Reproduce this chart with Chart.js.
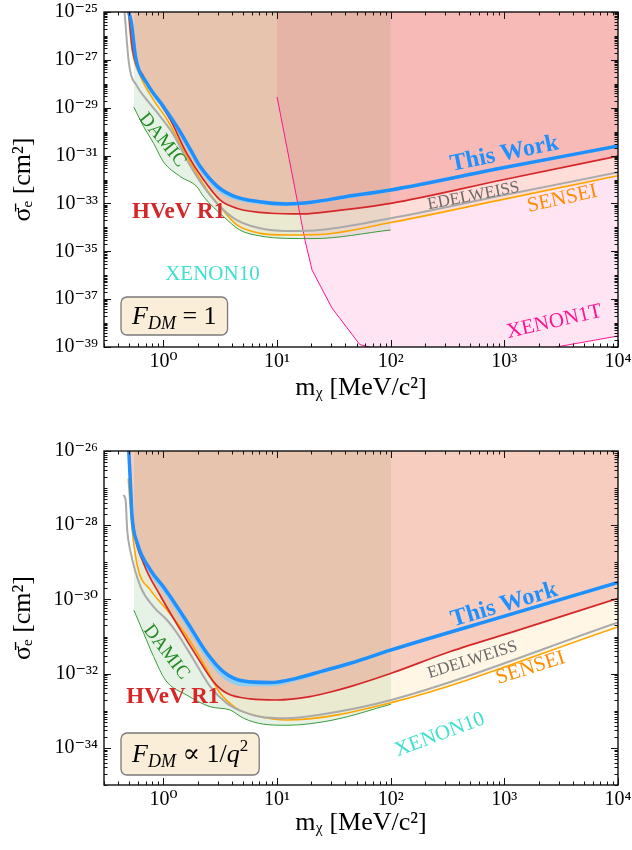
<!DOCTYPE html>
<html>
<head>
<meta charset="utf-8">
<script src="https://cdn.jsdelivr.net/npm/chart.js@4.4.1/dist/chart.umd.min.js"></script>
<style>
  html, body { margin: 0; padding: 0; background: #fff; }
  .panel { width: 632px; height: 425px; position: relative; }
  canvas { display: block; }
</style>
</head>
<body>
<div class="panel"><canvas id="topChart" width="632" height="425"></canvas></div>
<div class="panel"><canvas id="bottomChart" width="632" height="425"></canvas></div>
<script>
(function() {
    'use strict';

    // ===== DATA: F_DM = 1 (top) — mass in MeV, sigma as log10(cm^2) =====
    const topThisWorkMass = [0.495, 0.52, 0.57, 0.72, 1.0, 1.36, 1.8, 2.1, 3.0, 4.1, 7.0, 12, 20, 40, 100, 1000, 10000];
    const topThisWorkLogSigma = [-25.0, -25.4, -26.9, -28.0, -28.95, -29.9, -30.9, -31.45, -32.3, -32.68, -32.93, -33.02, -32.95, -32.72, -32.44, -31.5, -30.6];
    const topThisWorkBandLogSigma = [-25.0, -25.45, -27.0, -28.12, -29.1, -30.1, -31.12, -31.66, -32.48, -32.83, -33.03, -33.1, -33.03, -32.8, -32.51, -31.56, -30.66];

    const topHvevMass = [0.495, 0.53, 0.67, 0.94, 1.15, 1.6, 2.26, 3.16, 4.4, 8.7, 17, 30, 100, 1000, 10000];
    const topHvevLogSigma = [-25.0, -26.45, -27.7, -28.82, -29.5, -30.9, -32.02, -32.86, -33.2, -33.41, -33.44, -33.33, -33.0, -32.0, -31.02];

    const topEdelweissMass = [0.455, 0.497, 0.59, 0.695, 0.94, 1.23, 1.61, 2.26, 3.16, 4.43, 7.1, 12.2, 23.8, 100, 1000, 10000];
    const topEdelweissLogSigma = [-25.0, -27.14, -28.12, -28.6, -29.37, -30.14, -31.18, -32.3, -33.14, -33.7, -34.04, -34.15, -34.11, -33.62, -32.65, -31.7];

    const topSenseiMass = [0.49, 0.53, 0.63, 0.82, 1.08, 1.61, 2.42, 3.16, 4.43, 7.1, 12.2, 23.8, 100, 1000, 10000];
    const topSenseiLogSigma = [-25.0, -26.59, -27.7, -28.68, -29.51, -31.05, -32.44, -33.14, -33.9, -34.25, -34.32, -34.3, -33.8, -32.82, -31.84];

    const topDamicMass = [0.55, 0.67, 0.82, 1.0, 1.41, 1.97, 2.26, 3.38, 4.7, 7.1, 12.2, 20.7, 100];
    const topDamicLogSigma = [-28.98, -29.79, -30.49, -31.26, -31.88, -32.3, -32.72, -33.55, -34.11, -34.36, -34.46, -34.47, -34.11];

    const topXenon1tMass = [10, 17.6, 20.3, 30.4, 53.5, 300, 1000, 3200, 10000];
    const topXenon1tLogSigma = [-28.55, -34.53, -35.78, -37.37, -38.9, -39.8, -39.4, -38.96, -38.54];

    // ===== DATA: F_DM ∝ 1/q^2 (bottom) =====
    const botThisWorkMass = [0.496, 0.514, 0.53, 0.59, 0.77, 1.0, 1.61, 2.42, 3.38, 5.06, 8.7, 15, 25, 44, 101, 1000, 10000];
    const botThisWorkLogSigma = [-26.0, -26.96, -27.77, -28.49, -29.21, -29.66, -30.6, -31.45, -31.95, -32.2, -32.24, -32.12, -31.93, -31.72, -31.36, -30.45, -29.54];
    const botThisWorkBandLogSigma = [-26.0, -26.99, -27.84, -28.6, -29.34, -29.8, -30.76, -31.62, -32.13, -32.34, -32.34, -32.2, -31.99, -31.77, -31.41, -30.5, -29.59];

    const botHvevMass = [0.497, 0.52, 0.55, 0.67, 0.94, 1.41, 1.97, 2.76, 3.62, 5.8, 9.9, 19.5, 29, 44, 101, 330, 1350, 10000];
    const botHvevLogSigma = [-26.0, -27.35, -28.13, -29.03, -29.9, -30.82, -31.54, -32.22, -32.53, -32.68, -32.71, -32.62, -32.5, -32.35, -31.99, -31.41, -30.82, -29.97];

    const botEdelweissMass = [0.443, 0.465, 0.48, 0.51, 0.63, 0.82, 1.08, 1.32, 1.85, 2.58, 3.62, 5.06, 7.1, 12.2, 22.3, 101, 10000];
    const botEdelweissLogSigma = [-27.19, -27.32, -28.13, -28.67, -29.66, -30.2, -30.56, -30.91, -31.63, -32.35, -32.8, -33.03, -33.16, -33.2, -33.12, -32.71, -30.62];

    const botSenseiMass = [0.49, 0.53, 0.59, 0.77, 1.08, 1.61, 2.42, 3.16, 4.43, 6.64, 12.2, 101, 10000];
    const botSenseiLogSigma = [-26.74, -28.1, -29.1, -29.75, -30.29, -31.0, -31.9, -32.53, -32.94, -33.14, -33.25, -32.78, -30.74];

    const botDamicMass = [0.55, 0.67, 0.82, 1.04, 1.61, 2.58, 3.87, 5.06, 7.6, 12.2, 31, 101];
    const botDamicLogSigma = [-30.29, -30.91, -31.54, -32.17, -32.58, -32.89, -32.98, -33.2, -33.36, -33.39, -33.25, -32.82];

    // ===== TICKS (exponents) =====
    const massTickExps = [0, 1, 2, 3, 4];
    const topSigmaTickExps = [-25, -27, -29, -31, -33, -35, -37, -39];
    const botSigmaTickExps = [-26, -28, -30, -32, -34];

    // ===== STYLE =====
    const SERIF = "'Liberation Serif', 'DejaVu Serif', serif";
    const C_BLUE = '#1e90ff';
    const C_RED = '#d62728';
    const C_GRAY = '#aaaaaa';
    const C_ORANGE = '#ffa500';
    const C_GREEN = '#3a9a3a';
    const C_PINK = '#ff1493';

    const SUP = { '-': '\u207B', '0': '\u2070', '1': '\u00B9', '2': '\u00B2', '3': '\u00B3', '4': '\u2074',
                  '5': '\u2075', '6': '\u2076', '7': '\u2077', '8': '\u2078', '9': '\u2079' };

    function powerLabel(exp) {
        return '10' + String(exp).split('').map(c => SUP[c]).join('');
    }

    function toPoints(mass, logSigma) {
        return mass.map((m, i) => ({ x: m, y: Math.pow(10, logSigma[i]) }));
    }

    function curve(label, mass, logSigma, color, width, fillColor, extra) {
        return Object.assign({
            label: label,
            data: toPoints(mass, logSigma),
            borderColor: color,
            borderWidth: width,
            backgroundColor: fillColor || 'rgba(0,0,0,0)',
            fill: fillColor ? 'end' : false,
            pointRadius: 0,
            cubicInterpolationMode: 'monotone',
            clip: 0
        }, extra || {});
    }

    // ===== PLUGINS =====
    // frame on all sides with inward major / minor log ticks
    function makeFramePlugin(xMajors, yMajors) {
        function drawAxisTicks(ctx, scale, majors, horizontal, a) {
            const lo = Math.floor(Math.log10(scale.min)) - 1;
            const hi = Math.ceil(Math.log10(scale.max));
            for (let k = lo; k <= hi; k++) {
                for (let j = 1; j <= 9; j++) {
                    const v = j * Math.pow(10, k);
                    if (v < scale.min * 0.999 || v > scale.max * 1.001) continue;
                    const p = Math.round(scale.getPixelForValue(v)) + 0.5;
                    const len = (j === 1 && majors.indexOf(k) >= 0) ? 7 : 3.5;
                    ctx.beginPath();
                    if (horizontal) {
                        ctx.moveTo(p, a.bottom); ctx.lineTo(p, a.bottom - len);
                        ctx.moveTo(p, a.top); ctx.lineTo(p, a.top + len);
                    } else {
                        ctx.moveTo(a.left, p); ctx.lineTo(a.left + len, p);
                        ctx.moveTo(a.right, p); ctx.lineTo(a.right - len, p);
                    }
                    ctx.stroke();
                }
            }
        }
        return {
            id: 'frameTicks',
            afterDatasetsDraw(chart) {
                const { ctx, chartArea: a, scales } = chart;
                ctx.save();
                ctx.strokeStyle = '#111';
                ctx.lineWidth = 1;
                drawAxisTicks(ctx, scales.x, xMajors, true, a);
                drawAxisTicks(ctx, scales.y, yMajors, false, a);
                ctx.lineWidth = 1.4;
                ctx.strokeRect(a.left, a.top, a.right - a.left, a.bottom - a.top);
                ctx.restore();
            }
        };
    }

    // curve labels (placed in data coordinates) and the form-factor box
    function makeLabelPlugin(labels, box) {
        return {
            id: 'curveLabels',
            afterDraw(chart) {
                const { ctx, chartArea: a, scales } = chart;
                ctx.save();
                labels.forEach(l => {
                    const px = scales.x.getPixelForValue(l.mass);
                    const py = scales.y.getPixelForValue(Math.pow(10, l.logSigma));
                    ctx.save();
                    ctx.translate(px, py);
                    ctx.rotate(l.angle * Math.PI / 180);
                    ctx.font = l.font;
                    ctx.fillStyle = l.color;
                    ctx.textAlign = 'center';
                    ctx.textBaseline = 'middle';
                    ctx.fillText(l.text, 0, 0);
                    ctx.restore();
                });

                // box
                let w = 0;
                box.pieces.forEach(p => {
                    ctx.font = (p.italic ? 'italic ' : '') + p.size + 'px ' + SERIF;
                    p.w = ctx.measureText(p.text).width;
                    w += p.w;
                });
                const bw = w + 2 * box.padX;
                const bx = a.left + box.dx;
                const by = a.bottom - box.dy - box.h;
                const r = 6;
                ctx.beginPath();
                ctx.moveTo(bx + r, by);
                ctx.arcTo(bx + bw, by, bx + bw, by + box.h, r);
                ctx.arcTo(bx + bw, by + box.h, bx, by + box.h, r);
                ctx.arcTo(bx, by + box.h, bx, by, r);
                ctx.arcTo(bx, by, bx + bw, by, r);
                ctx.closePath();
                ctx.fillStyle = 'rgba(245,222,179,0.5)';
                ctx.fill();
                ctx.strokeStyle = '#7a7a7a';
                ctx.lineWidth = 1.3;
                ctx.stroke();

                let tx = bx + box.padX;
                const base = by + box.h / 2 + 8;
                ctx.fillStyle = '#000';
                ctx.textAlign = 'left';
                ctx.textBaseline = 'alphabetic';
                box.pieces.forEach(p => {
                    ctx.font = (p.italic ? 'italic ' : '') + p.size + 'px ' + SERIF;
                    ctx.fillText(p.text, tx, base + (p.shift || 0));
                    tx += p.w;
                });
                ctx.restore();
            }
        };
    }

    // ===== OPTIONS =====
    function makeOptions(cfg) {
        return {
            responsive: false,
            animation: false,
            devicePixelRatio: 1,
            layout: { padding: { top: cfg.padTop, right: 14, left: 0, bottom: 0 } },
            plugins: {
                legend: { display: false },
                tooltip: { enabled: false },
                filler: { drawTime: 'beforeDatasetsDraw' }
            },
            scales: {
                x: {
                    type: 'logarithmic',
                    position: 'bottom',
                    min: 0.3,
                    max: 1e4,
                    grid: { display: false, drawTicks: false },
                    border: { display: false },
                    ticks: {
                        autoSkip: false, maxRotation: 0, minRotation: 0, padding: 3,
                        color: '#000', font: { family: SERIF, size: 20 },
                        callback: v => powerLabel(Math.round(Math.log10(v)))
                    },
                    afterBuildTicks: s => { s.ticks = massTickExps.map(e => ({ value: Math.pow(10, e) })); },
                    afterFit: s => { s.height = cfg.xAxisHeight; s.paddingLeft = 0; s.paddingRight = 0; },
                    title: {
                        display: true, text: 'm\u1D6A [MeV/c\u00B2]', color: '#000',
                        font: { family: SERIF, size: 26 }, padding: { top: 0, bottom: cfg.xTitlePad }
                    }
                },
                y: {
                    type: 'logarithmic',
                    position: 'left',
                    min: Math.pow(10, cfg.yMinExp),
                    max: Math.pow(10, cfg.yMaxExp),
                    grid: { display: false, drawTicks: false },
                    border: { display: false },
                    ticks: {
                        autoSkip: false, padding: 6,
                        color: '#000', font: { family: SERIF, size: 20 },
                        callback: v => powerLabel(Math.round(Math.log10(v)))
                    },
                    afterBuildTicks: s => { s.ticks = cfg.yTicks.map(e => ({ value: Math.pow(10, e) })); },
                    afterFit: s => { s.width = 104; s.paddingTop = 0; s.paddingBottom = 0; },
                    title: {
                        display: true, text: '\u03C3\u0304\u2091 [cm\u00B2]', color: '#000',
                        font: { family: SERIF, size: 26 }, padding: { top: 8, bottom: 0 }
                    }
                }
            }
        };
    }

    // ===== TOP CHART: F_DM = 1 =====
    const topLabels = [
        { text: 'This Work', mass: 1000, logSigma: -30.93, angle: -11.5, color: C_BLUE, font: 'bold 24px ' + SERIF },
        { text: 'EDELWEISS', mass: 535, logSigma: -32.69, angle: -11, color: '#696969', font: '17px ' + SERIF },
        { text: 'SENSEI', mass: 3230, logSigma: -32.81, angle: -12.5, color: '#ff8c00', font: '21px ' + SERIF },
        { text: 'HVeV R1', mass: 1.36, logSigma: -33.36, angle: 0, color: C_RED, font: 'bold 23px ' + SERIF },
        { text: 'DAMIC', mass: 0.98, logSigma: -30.35, angle: 51, color: '#228b22', font: '19px ' + SERIF },
        { text: 'XENON10', mass: 2.7, logSigma: -35.99, angle: 0, color: '#40e0d0', font: '21px ' + SERIF },
        { text: 'XENON1T', mass: 2750, logSigma: -37.95, angle: -12.8, color: C_PINK, font: '21px ' + SERIF }
    ];
    const topBox = {
        dx: 17, dy: 12, h: 38, padX: 11,
        pieces: [
            { text: 'F', italic: true, size: 26 },
            { text: 'DM', italic: true, size: 18, shift: 5 },
            { text: ' = 1', italic: false, size: 26 }
        ]
    };

    new Chart(document.getElementById('topChart').getContext('2d'), {
        type: 'line',
        data: {
            datasets: [
                curve('This Work', topThisWorkMass, topThisWorkLogSigma, C_BLUE, 3.5, null),
                curve('This Work band', topThisWorkMass, topThisWorkBandLogSigma, 'rgba(0,0,0,0)', 0, 'rgba(135,206,250,0.9)', { fill: '-1' }),
                curve('HVeV R1', topHvevMass, topHvevLogSigma, C_RED, 1.7, 'rgba(214,39,40,0.2)'),
                curve('EDELWEISS', topEdelweissMass, topEdelweissLogSigma, C_GRAY, 2, null),
                curve('SENSEI', topSenseiMass, topSenseiLogSigma, C_ORANGE, 1.6, 'rgba(255,165,0,0.1)'),
                curve('DAMIC', topDamicMass, topDamicLogSigma, C_GREEN, 1, 'rgba(34,139,34,0.11)'),
                curve('XENON1T', topXenon1tMass, topXenon1tLogSigma, C_PINK, 1, 'rgba(255,20,147,0.11)', { cubicInterpolationMode: 'default', tension: 0 })
            ]
        },
        options: makeOptions({ padTop: 12, xAxisHeight: 78, xTitlePad: 21, yMinExp: -39, yMaxExp: -25, yTicks: topSigmaTickExps }),
        plugins: [makeFramePlugin(massTickExps, topSigmaTickExps), makeLabelPlugin(topLabels, topBox)]
    });

    // ===== BOTTOM CHART: F_DM ∝ 1/q^2 =====
    const botLabels = [
        { text: 'This Work', mass: 1000, logSigma: -30.15, angle: -16.5, color: C_BLUE, font: 'bold 24px ' + SERIF },
        { text: 'EDELWEISS', mass: 525, logSigma: -31.63, angle: -17.5, color: '#696969', font: '17px ' + SERIF },
        { text: 'SENSEI', mass: 1700, logSigma: -31.85, angle: -17.6, color: '#ff8c00', font: '21px ' + SERIF },
        { text: 'HVeV R1', mass: 1.21, logSigma: -32.63, angle: 0, color: C_RED, font: 'bold 23px ' + SERIF },
        { text: 'DAMIC', mass: 1.06, logSigma: -31.42, angle: 52.5, color: '#228b22', font: '19px ' + SERIF },
        { text: 'XENON10', mass: 270, logSigma: -33.65, angle: -20.5, color: '#40e0d0', font: '21px ' + SERIF }
    ];
    const botBox = {
        dx: 17, dy: 10, h: 42, padX: 11,
        pieces: [
            { text: 'F', italic: true, size: 26 },
            { text: 'DM', italic: true, size: 18, shift: 5 },
            { text: ' \u221D 1/', italic: false, size: 26 },
            { text: 'q', italic: true, size: 26 },
            { text: '2', italic: false, size: 17, shift: -11 }
        ]
    };

    new Chart(document.getElementById('bottomChart').getContext('2d'), {
        type: 'line',
        data: {
            datasets: [
                curve('This Work', botThisWorkMass, botThisWorkLogSigma, C_BLUE, 3.5, null),
                curve('This Work band', botThisWorkMass, botThisWorkBandLogSigma, 'rgba(0,0,0,0)', 0, 'rgba(135,206,250,0.9)', { fill: '-1' }),
                curve('HVeV R1', botHvevMass, botHvevLogSigma, C_RED, 1.7, 'rgba(214,39,40,0.2)'),
                curve('EDELWEISS', botEdelweissMass, botEdelweissLogSigma, C_GRAY, 2, null),
                curve('SENSEI', botSenseiMass, botSenseiLogSigma, C_ORANGE, 1.6, 'rgba(255,165,0,0.1)'),
                curve('DAMIC', botDamicMass, botDamicLogSigma, C_GREEN, 1, 'rgba(34,139,34,0.11)')
            ]
        },
        options: makeOptions({ padTop: 26, xAxisHeight: 65, xTitlePad: 11, yMinExp: -35, yMaxExp: -26, yTicks: botSigmaTickExps }),
        plugins: [makeFramePlugin(massTickExps, botSigmaTickExps), makeLabelPlugin(botLabels, botBox)]
    });
})();
</script>
</body>
</html>
